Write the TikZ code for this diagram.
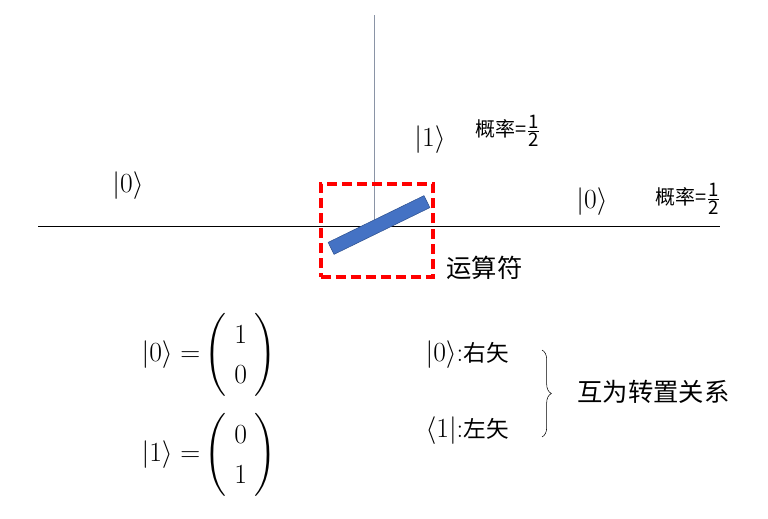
\documentclass[tikz,border=0pt]{standalone}
\usepackage{amsmath}
\usepackage{fontspec}
\newfontfamily\cjk{Noto Sans CJK SC}
\usepackage{xcolor}
\definecolor{BarBlue}{HTML}{4472C4}
\definecolor{BarEdge}{HTML}{2F528F}
\definecolor{AxisGrey}{HTML}{8A94A6}
\usetikzlibrary{decorations.pathreplacing}

\begin{document}
\begin{tikzpicture}[x=0.75pt,y=-0.75pt,every node/.style={font=\fontsize{20}{24}\selectfont,inner sep=1pt},
  han/.style={font=\cjk\fontsize{19}{22}\selectfont},
  prob/.style={font=\cjk\fontsize{15}{18}\selectfont}]
\useasboundingbox (0,0) rectangle (768,518);
% axes
\coordinate (xl) at (38,226);
\coordinate (xr) at (720,226);
\coordinate (yt) at (374,15);
\coordinate (yo) at (374,226);
\draw[thin] (xl) -- (xr);
\draw[AxisGrey,thin] (yt) -- (yo);
% operator
\node[draw=red,line width=3pt,dash pattern=on 7.5pt off 3.8pt,minimum width=84pt,minimum height=70pt] (box) at (376.5,230.5) {};
\node[draw=BarEdge,fill=BarBlue,minimum width=80pt,minimum height=10pt,inner sep=0pt,rotate=26] (op) at (379,225) {};
\node[han,anchor=west] (opname) at (445,268) {运算符};
% states and probabilities
\node (in0) at (128,186) {$|0\rangle$};
\node (out1) at (430,140) {$|1\rangle$};
\node[prob,anchor=west] (p1) at (474,131) {概率=$\frac{\text{\fontsize{14}{14}\selectfont1}}{\text{\fontsize{14}{14}\selectfont2}}$};
\node (out0) at (592,202) {$|0\rangle$};
\node[prob,anchor=west] (p0) at (654,199) {概率=$\frac{\text{\fontsize{14}{14}\selectfont1}}{\text{\fontsize{14}{14}\selectfont2}}$};
% column vectors
\node[anchor=west] (v0) at (140,355) {$|0\rangle\;{=}\renewcommand{\arraystretch}{1.25}\begin{pmatrix}\;1\;\\\;0\;\end{pmatrix}$};
\node[anchor=west] (v1) at (140,455) {$|1\rangle\;{=}\renewcommand{\arraystretch}{1.25}\begin{pmatrix}\;0\;\\\;1\;\end{pmatrix}$};
% ket and bra
\node[anchor=west] (ket) at (424,355) {$|0\rangle$:{\cjk\fontsize{17}{20}\selectfont 右矢}};
\node[anchor=west] (bra) at (424,431) {$\langle1|$:{\cjk\fontsize{17}{20}\selectfont 左矢}};
\draw[decorate,decoration={brace,amplitude=7pt},thin] (542,350) -- (542,437);
\node[han,anchor=west] (rel) at (576,392) {互为转置关系};
\end{tikzpicture}
\end{document}
